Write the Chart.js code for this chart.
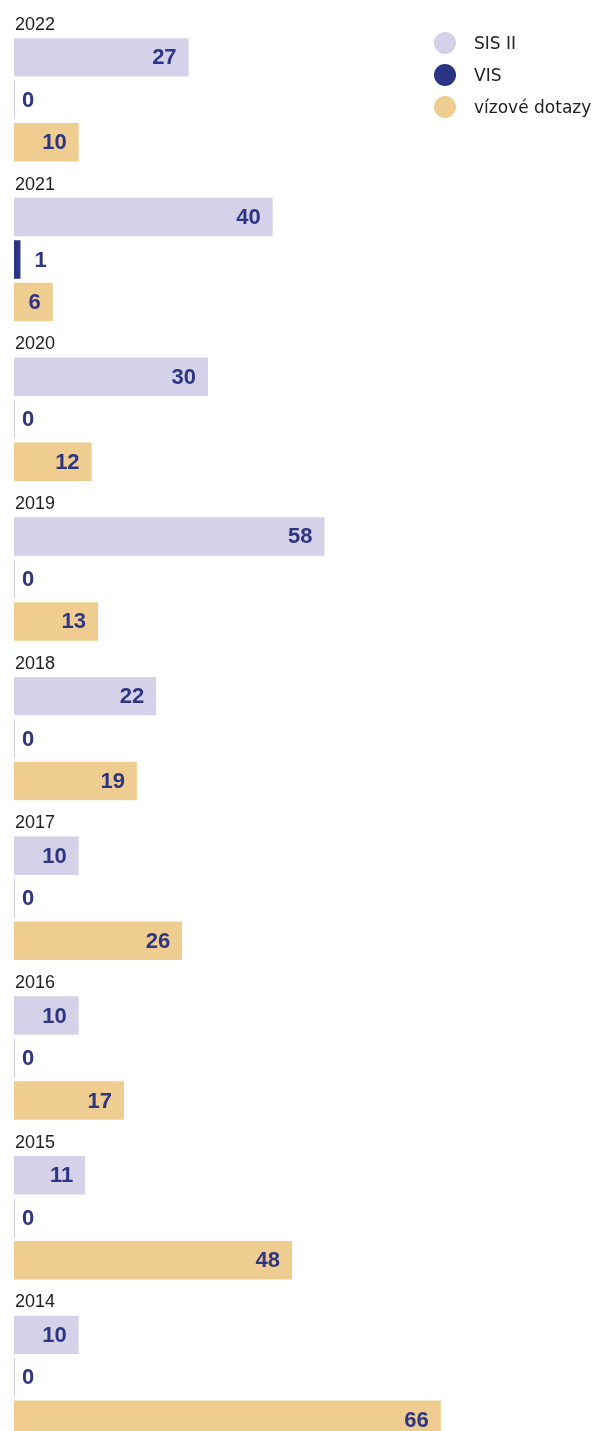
<!DOCTYPE html>
<html>
<head>
<meta charset="utf-8">
<script src="https://cdn.jsdelivr.net/npm/chart.js@4.4.1/dist/chart.umd.min.js"></script>
<style>
  body { margin: 0; overflow: hidden; background: #fff; }
  #wrap { position: relative; width: 600px; height: 1469px; }
  #legend { position: absolute; left: 434px; top: 27px; font-family: "DejaVu Sans", sans-serif; font-size: 17px; color: #222; }
  #legend div { height: 32px; display: flex; align-items: center; }
  #legend span.dot { width: 22px; height: 22px; border-radius: 50%; margin-right: 18px; display: inline-block; }
</style>
</head>
<body>
<div id="wrap">
  <canvas id="myChart" width="600" height="1469"></canvas>
  <div id="legend"></div>
</div>
<script>
// years, top to bottom
const years = ["2022", "2021", "2020", "2019", "2018", "2017", "2016", "2015", "2014"]
const seriesNames = ["SIS II", "VIS", "vízové dotazy"]
const seriesColors = ["#d5d1e9", "#2b3583", "#efcd91"]

// bar lengths as drawn in the picture
const sisValues = [27, 40, 30, 48, 22, 10, 10, 11, 10]
const visValues = [0, 1, 0, 0, 0, 0, 0, 0, 0]
const vizValues = [10, 6, 12, 13, 19, 26, 17, 43, 66]

// numbers printed on the bars
const sisLabels = [27, 40, 30, 58, 22, 10, 10, 11, 10]
const visLabels = [0, 1, 0, 0, 0, 0, 0, 0, 0]
const vizLabels = [10, 6, 12, 13, 19, 26, 17, 48, 66]

const allLabels = [sisLabels, visLabels, vizLabels]
const LABEL_COLOR = "#2e3582"

// draw the numbers inside the bar end, or just after it when the bar is too short
const barLabels = {
  id: "barLabels",
  afterDatasetsDraw(chart) {
    const ctx = chart.ctx
    ctx.save()
    ctx.font = "bold 22px 'Liberation Sans', Arial, sans-serif"
    ctx.fillStyle = LABEL_COLOR
    ctx.textBaseline = "middle"
    chart.data.datasets.forEach(function (ds, i) {
      const meta = chart.getDatasetMeta(i)
      meta.data.forEach(function (bar, j) {
        const text = String(allLabels[i][j])
        const w = ctx.measureText(text).width
        const len = bar.x - bar.base
        if (len > w + 24) {
          ctx.textAlign = "right"
          ctx.fillText(text, bar.x - 12, bar.y + 1)
        } else {
          ctx.textAlign = "left"
          // short bars: number sits after the bar
          ctx.fillText(text, bar.x + (len > 3 ? 14 : 7), bar.y + 1)
        }
      })
    })
    ctx.restore()
  }
}

function visColor(c) {
  // zero bars only show a faint line
  return c.raw === 0 ? "#cfcce0" : seriesColors[1]
}

const ctx = document.getElementById("myChart").getContext("2d")
const chart = new Chart(ctx, {
  type: "bar",
  data: {
    labels: years,
    datasets: [
      { label: seriesNames[0], data: sisValues, backgroundColor: seriesColors[0] },
      { label: seriesNames[1], data: visValues, backgroundColor: visColor },
      { label: seriesNames[2], data: vizValues, backgroundColor: seriesColors[2] }
    ]
  },
  options: {
    indexAxis: "y",
    responsive: false,
    animation: false,
    layout: { padding: { left: 12, right: 4, top: 20, bottom: 2.5 } },
    datasets: {
      bar: { categoryPercentage: 0.798, barPercentage: 0.906, minBarLength: 1 }
    },
    plugins: {
      legend: { display: false },
      tooltip: { enabled: false }
    },
    scales: {
      x: { display: false, min: 0, max: 90 },
      y: {
        grid: { display: false, drawTicks: false },
        border: { display: false },
        ticks: {
          mirror: true,
          padding: 1,
          labelOffset: -75,
          color: "#222",
          font: { family: "'Liberation Sans', Arial, sans-serif", size: 18 }
        }
      }
    }
  },
  plugins: [barLabels]
})

// legend built from the series names
const legend = document.getElementById("legend")
seriesNames.forEach(function (name, i) {
  const row = document.createElement("div")
  const dot = document.createElement("span")
  dot.className = "dot"
  dot.style.background = seriesColors[i]
  row.appendChild(dot)
  row.appendChild(document.createTextNode(name))
  legend.appendChild(row)
})
</script>
</body>
</html>
